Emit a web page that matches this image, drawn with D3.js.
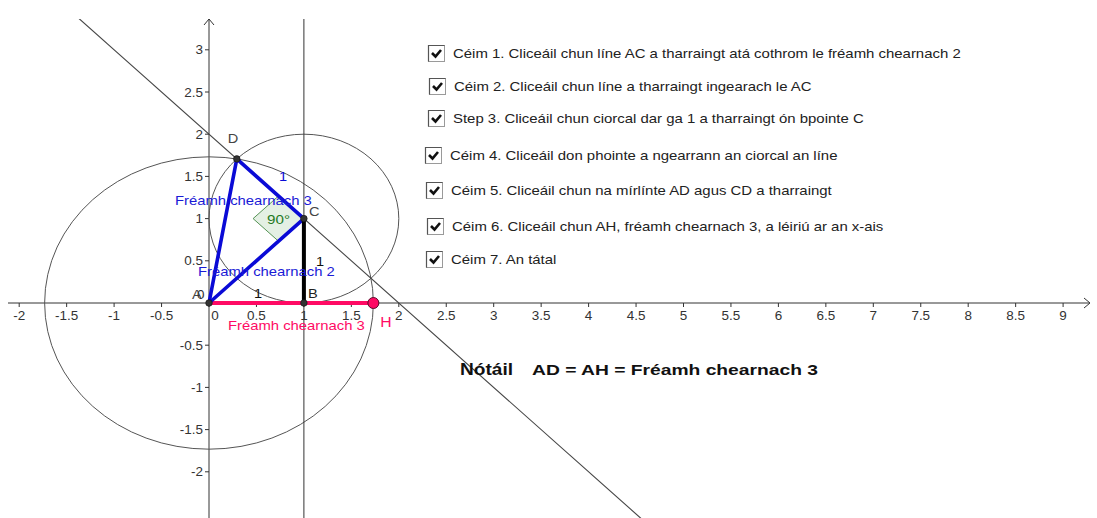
<!DOCTYPE html>
<html><head><meta charset="utf-8">
<script src="https://cdn.jsdelivr.net/npm/d3@7"></script>
<style>
html,body{margin:0;padding:0;background:#fff;}
svg{display:block;font-family:"Liberation Sans",Arial,sans-serif;}
</style></head>
<body>
<svg id="c" width="1097" height="518"></svg>
<script>
// ---- data ----
const xTickValues = [-2,-1.5,-1,-0.5,0,0.5,1,1.5,2,2.5,3,3.5,4,4.5,5,5.5,6,6.5,7,7.5,8,8.5,9];
const yTickValues = [-2,-1.5,-1,-0.5,0.5,1,1.5,2,2.5,3];
const pointNames = ["A","B","C","D","H"];
const pointX = [0, 1, 1, 1 - Math.SQRT1_2, Math.sqrt(3)];
const pointY = [0, 0, 1, 1 + Math.SQRT1_2, 0];
const circleCenters = ["A","C"];
const circleRadii = [Math.sqrt(3), 1];
const blueSegments = [["A","C"],["A","D"],["C","D"]];
const steps = [
  "Céim 1. Cliceáil chun líne AC a tharraingt atá cothrom le fréamh chearnach 2",
  "Céim 2. Cliceáil chun líne a tharraingt ingearach le AC",
  "Step 3. Cliceáil chun ciorcal dar ga 1 a tharraingt ón bpointe C",
  "Céim 4. Cliceáil don phointe a ngearrann an ciorcal an líne",
  "Céim 5. Cliceáil chun na mírlínte AD agus CD a tharraingt",
  "Céim 6. Cliceáil chun AH, fréamh chearnach 3, a léiriú ar an x-ais",
  "Céim 7. An tátal"
];
const noteTitle = "Nótáil";
const noteText = "AD = AH = Fréamh chearnach 3";

// ---- setup ----
const svg = d3.select("#c");
const W = 1097, H = 518;
const x = d3.scaleLinear().domain([0, 1]).range([209, 303.9]);
const y = d3.scaleLinear().domain([0, 1]).range([303, 218.6]);
const P = {};
pointNames.forEach((n, i) => P[n] = {x: pointX[i], y: pointY[i]});
const stretch = 1.124; // horizontal stretch of the original screenshot

const clipTop = 19, clipLeft = 8;
svg.append("defs").append("clipPath").attr("id","view")
  .append("rect").attr("x",clipLeft).attr("y",clipTop).attr("width",W-clipLeft).attr("height",H-clipTop);

const g = svg.append("g").attr("clip-path","url(#view)");

// axes
const axisColor = "#333";
g.append("line").attr("x1",clipLeft).attr("x2",1089).attr("y1",y(0)).attr("y2",y(0))
  .attr("stroke",axisColor).attr("stroke-width",1);
g.append("path").attr("d",`M${1084},${y(0)-5} L${1090},${y(0)} L${1084},${y(0)+5}`)
  .attr("fill","none").attr("stroke",axisColor).attr("stroke-width",1);
g.append("line").attr("x1",x(0)).attr("x2",x(0)).attr("y1",clipTop).attr("y2",H)
  .attr("stroke",axisColor).attr("stroke-width",1);
svg.append("path").attr("d",`M${x(0)-5},${clipTop+6} L${x(0)},${clipTop} L${x(0)+5},${clipTop+6}`)
  .attr("fill","none").attr("stroke",axisColor).attr("stroke-width",1);

// x ticks
const xt = g.append("g");
xTickValues.forEach(v => {
  xt.append("line").attr("x1",x(v)).attr("x2",x(v)).attr("y1",y(0)).attr("y2",y(0)+4)
    .attr("stroke",axisColor);
  xt.append("text").attr("transform",`translate(${v===0 ? x(v)+6 : x(v)},${y(0)+17}) scale(${stretch},1)`)
    .attr("text-anchor","middle").attr("font-size",12).attr("fill","#333")
    .text(String(v));
});
// y ticks
yTickValues.forEach(v => {
  xt.append("line").attr("x1",x(0)-4).attr("x2",x(0)).attr("y1",y(v)).attr("y2",y(v))
    .attr("stroke",axisColor);
  xt.append("text").attr("transform",`translate(${x(0)-6},${y(v)+4.5}) scale(${stretch},1)`)
    .attr("text-anchor","end").attr("font-size",12).attr("fill","#333")
    .text(String(v));
});

// circles (ellipses due to unequal axis scaling)
circleCenters.forEach((c, i) => {
  g.append("ellipse").attr("cx",x(P[c].x)).attr("cy",y(P[c].y))
    .attr("rx",x(circleRadii[i]) - x(0)).attr("ry",y(0) - y(circleRadii[i]))
    .attr("fill","none").attr("stroke","#555").attr("stroke-width",1);
});

// vertical line x = 1
g.append("line").attr("x1",x(1)).attr("x2",x(1)).attr("y1",clipTop).attr("y2",H)
  .attr("stroke","#333").attr("stroke-width",1);
// line through C perpendicular to AC: y = 2 - x
g.append("line").attr("x1",x(-4)).attr("y1",y(6)).attr("x2",x(7)).attr("y2",y(-5))
  .attr("stroke","#444").attr("stroke-width",1.1);

// right-angle marker at C (screen-space square)
(function(){
  const cx = x(P.C.x), cy = y(P.C.y);
  const dA = [x(P.A.x)-cx, y(P.A.y)-cy], dD = [x(P.D.x)-cx, y(P.D.y)-cy];
  const nA = Math.hypot(...dA), nD = Math.hypot(...dD);
  const s = 34;
  const u = [dA[0]/nA*s, dA[1]/nA*s], w = [dD[0]/nD*s, dD[1]/nD*s];
  g.append("path")
    .attr("d",`M${cx},${cy} L${cx+u[0]},${cy+u[1]} L${cx+u[0]+w[0]},${cy+u[1]+w[1]} L${cx+w[0]},${cy+w[1]} Z`)
    .attr("fill","#e4f0e4").attr("stroke","#2e7a2e").attr("stroke-width",0.8);
  g.append("text").attr("transform",`translate(${cx+(u[0]+w[0])/2},${cy+(u[1]+w[1])/2+5}) scale(${stretch},1)`)
    .attr("text-anchor","middle").attr("font-size",13.5).attr("fill","#1f7a1f").text("90°");
})();

// segments
g.append("line").attr("x1",x(P.A.x)).attr("y1",y(P.A.y)).attr("x2",x(P.H.x)).attr("y2",y(P.H.y))
  .attr("stroke","#ff0a64").attr("stroke-width",4);
blueSegments.forEach(([a,b]) => {
  g.append("line").attr("x1",x(P[a].x)).attr("y1",y(P[a].y)).attr("x2",x(P[b].x)).attr("y2",y(P[b].y))
    .attr("stroke","#0a0ad6").attr("stroke-width",3.6).attr("stroke-linecap","round");
});
g.append("line").attr("x1",x(P.B.x)).attr("y1",y(P.B.y)).attr("x2",x(P.C.x)).attr("y2",y(P.C.y))
  .attr("stroke","#000").attr("stroke-width",4);

// points
["A","B","C","D"].forEach(n => {
  g.append("circle").attr("cx",x(P[n].x)).attr("cy",y(P[n].y)).attr("r",3.3)
    .attr("fill","#333").attr("stroke","#111").attr("stroke-width",0.6);
});
g.append("circle").attr("cx",x(P.H.x)).attr("cy",y(P.H.y)).attr("r",5.5)
  .attr("fill","#ff0a64").attr("stroke","#5a0a2a").attr("stroke-width",1);

// labels
const lab = (t, px, py, col, fs) => g.append("text")
  .attr("transform",`translate(${px},${py}) scale(${stretch},1)`)
  .attr("fill",col).attr("font-size",fs||13).text(t);
lab("A", x(P.A.x)-17, y(P.A.y)-4, "#444");
lab("0", x(P.A.x)-12, y(P.A.y)-4, "#333", 12);
lab("B", x(P.B.x)+4, y(P.B.y)-5, "#222");
lab("C", x(P.C.x)+5, y(P.C.y)-3, "#444");
lab("D", x(P.D.x)-9, y(P.D.y)-16, "#444");
lab("H", x(P.H.x)+7, y(P.H.y)+24, "#ff0a64", 14);
lab("1", 279, 181, "#0a0ad6");
lab("1", 316, 266, "#111");
lab("1", 254, 298, "#111");
lab("Fréamh chearnach 3", 175, 205, "#1a1ad6", 13.2);
lab("Fréamh chearnach 2", 198, 276, "#1a1ad6", 13.2);
lab("Fréamh chearnach 3", 228, 330, "#ff0a64", 13.2);

// checklist
const rowY = [53, 86, 118, 155, 190, 226, 259];
const rowX = [428, 429, 428, 425, 426, 427, 426];
const list = svg.append("g");
steps.forEach((s, i) => {
  const bx = rowX[i], by = rowY[i] - 8;
  list.append("rect").attr("x",bx+0.5).attr("y",by+0.5).attr("width",16).attr("height",16)
    .attr("fill","#fff").attr("stroke","#9a9a9a").attr("stroke-width",1);
  list.append("path").attr("d",`M${bx+0.5},${by+16.5} L${bx+0.5},${by+0.5} L${bx+16.5},${by+0.5}`)
    .attr("fill","none").attr("stroke","#555").attr("stroke-width",1.2);
  list.append("path").attr("d",`M${bx+4},${by+8} L${bx+7.5},${by+11.5} L${bx+13},${by+5}`)
    .attr("fill","none").attr("stroke","#111").attr("stroke-width",2.6);
  list.append("text").attr("transform",`translate(${bx+25},${rowY[i]+5}) scale(${stretch},1)`)
    .attr("font-size",13.3).attr("fill","#222").text(s);
});

// note
svg.append("text").attr("transform",`translate(460,375) scale(${stretch},1)`)
  .attr("font-size",17).attr("font-weight","bold").attr("fill","#111").text(noteTitle);
svg.append("text").attr("x",532).attr("y",375).attr("font-size",15.5).attr("font-weight","bold")
  .attr("fill","#111").attr("textLength",286).attr("lengthAdjust","spacingAndGlyphs").text(noteText);
</script>
</body></html>
